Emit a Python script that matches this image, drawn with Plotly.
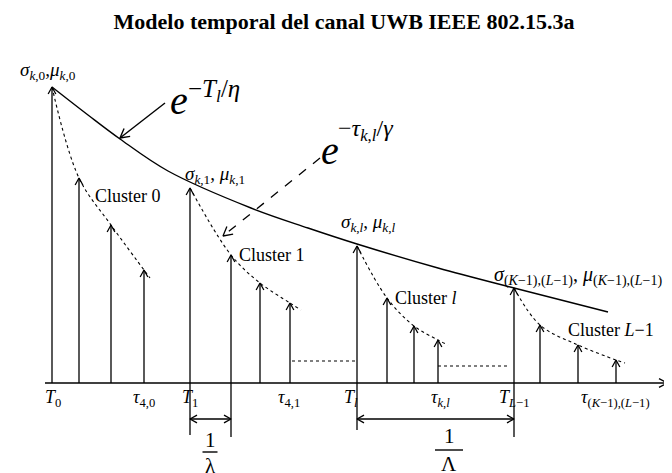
import plotly.graph_objects as go

# ray arrival times (px along the time axis) and amplitudes (px above the axis)
ray_t = [44, 71, 103, 136, 182, 223, 252, 282, 349, 379, 406, 430, 506, 532, 570, 608]
ray_amp = [296, 205, 158, 113, 195, 128, 100, 80, 137, 85, 57, 43, 95, 58, 38, 23]
ray_cluster = [0, 0, 0, 0, 1, 1, 1, 1, 2, 2, 2, 2, 3, 3, 3, 3]

# tail of each cluster's dotted decay after its last ray
tail_t = [142, 293, 440, 617]
tail_amp = [105, 73, 38, 20]

# cluster envelope e^{-T_l/eta}
env_t = [44, 80, 112, 160, 243, 300, 349, 430, 506, 600]
env_amp = [296, 268, 244, 212, 175, 155, 139, 115, 95, 71]

# dotted gaps between clusters
gap_t0 = [284, 430]
gap_t1 = [349, 500]
gap_amp = [22, 17]

cluster_names = ["Cluster 0", "Cluster 1", "Cluster <i>l</i>", "Cluster <i>L</i>−1"]
cluster_lbl_t = [120, 264, 418, 603]
cluster_lbl_amp = [187, 128, 85, 53]

peak_labels = [
    "<i>σ</i><sub><i>k</i>,0</sub>,<i>μ</i><sub><i>k</i>,0</sub>",
    "<i>σ</i><sub><i>k</i>,1</sub>, <i>μ</i><sub><i>k</i>,1</sub>",
    "<i>σ</i><sub><i>k</i>,<i>l</i></sub>, <i>μ</i><sub><i>k</i>,<i>l</i></sub>",
    "<i>σ</i><sub>(<i>K</i>−1),(<i>L</i>−1)</sub>, <i>μ</i><sub>(<i>K</i>−1),(<i>L</i>−1)</sub>",
]
peak_lbl_t = [40, 207, 360, 570]
peak_lbl_amp = [312, 208, 160, 107]
peak_lbl_size = [19, 19, 19, 20]

tick_labels = [
    "<i>T</i><sub>0</sub>", "<i>τ</i><sub>4,0</sub>", "<i>T</i><sub>1</sub>",
    "<i>τ</i><sub>4,1</sub>", "<i>T</i><sub><i>l</i></sub>", "<i>τ</i><sub><i>k</i>,<i>l</i></sub>",
    "<i>T</i><sub><i>L</i>−1</sub>", "<i>τ</i><sub>(<i>K</i>−1),(<i>L</i>−1)</sub>",
]
tick_t = [45, 136, 182, 281, 343, 432, 506, 607]

FONT = "Liberation Serif, DejaVu Serif, serif"
BASE = 375  # pixel row of the time axis
W, H = 672, 473


def head(x0, y0, x1, y1, size=7, spread=0.55):
    # open chevron at (x1, y1) for a segment coming from (x0, y0)
    dx, dy = x1 - x0, y1 - y0
    n = (dx * dx + dy * dy) ** 0.5
    ux, uy = dx / n, dy / n
    px, py = -uy, ux
    bx, by = x1 - ux * size, y1 - uy * size
    w = size * spread
    return [bx + px * w, x1, bx - px * w, None], [by + py * w, y1, by - py * w, None]


fig = go.Figure()


def add_line(xs, ys, width=1.3, dash="solid", shape="linear"):
    fig.add_trace(go.Scatter(
        x=xs, y=ys, mode="lines", hoverinfo="skip", showlegend=False,
        line=dict(color="black", width=width, dash=dash, shape=shape, smoothing=1.0),
    ))


# time axis with arrow
add_line([37, 659], [0, 0], width=1.3)
hx, hy = head(37, 0, 659, 0, size=8)
add_line(hx, hy, width=1.3)

# rays
sx, sy, ax_, ay_ = [], [], [], []
for t, a in zip(ray_t, ray_amp):
    sx += [t, t, None]
    sy += [0, a, None]
    h = head(t, 0, t, a, size=7)
    ax_ += h[0]
    ay_ += h[1]
add_line(sx, sy, width=1.3)
add_line(ax_, ay_, width=1.3)

# per-cluster dotted decays
for c in range(4):
    xs = [t for t, k in zip(ray_t, ray_cluster) if k == c] + [tail_t[c]]
    ys = [a for a, k in zip(ray_amp, ray_cluster) if k == c] + [tail_amp[c]]
    add_line(xs, ys, width=1.1, dash="dot", shape="spline")

# envelope
add_line(env_t, env_amp, width=1.4, shape="spline")

# dotted gaps
for x0, x1, a in zip(gap_t0, gap_t1, gap_amp):
    add_line([x0, x1], [a, a], width=1.2, dash="dot")

# pointers to the two exponentials
add_line([157, 112], [280, 245], width=1.4)
hx, hy = head(157, 280, 112, 245, size=9)
add_line(hx, hy, width=1.4)
add_line([312, 215], [225, 147], width=1.3, dash="dash")
hx, hy = head(312, 225, 215, 147, size=9)
add_line(hx, hy, width=1.3)

# interval markers 1/lambda and 1/Lambda
starts = [ray_t[4], ray_t[8]]
ends = [ray_t[5], ray_t[12]]
depth = [-52, -54, -47, -54]
for i, t in enumerate([starts[0], ends[0], starts[1], ends[1]]):
    add_line([t, t], [0, depth[i]], width=1.3)
for s, e in zip(starts, ends):
    add_line([s, e], [-36, -36], width=1.4)
    hx, hy = head(e, -36, s, -36, size=7)
    add_line(hx, hy, width=1.4)
    hx, hy = head(s, -36, e, -36, size=7)
    add_line(hx, hy, width=1.4)

ann = []


def text(x, y, s, size, xanchor="center"):
    ann.append(dict(x=x, y=y, xref="x", yref="y", text=s, showarrow=False,
                    xanchor=xanchor, yanchor="middle",
                    font=dict(family=FONT, size=size, color="black")))


for s, x, y in zip(cluster_names, cluster_lbl_t, cluster_lbl_amp):
    text(x, y, s, 18)
for s, x, y, fs in zip(peak_labels, peak_lbl_t, peak_lbl_amp, peak_lbl_size):
    text(x, y, s, fs)
for s, x in zip(tick_labels, tick_t):
    text(x, BASE - 390, s, 18)
text(662, 2, "<i>τ</i>", 18, xanchor="left")

# exponentials
text(171, 283, "<i>e</i>", 40)
text(178, 293, "−<i>T</i><sub><i>l</i></sub>/<i>η</i>", 25, xanchor="left")
text(322, 233, "<i>e</i>", 40)
text(328, 253, "−<i>τ</i><sub><i>k</i>,<i>l</i></sub>/<i>γ</i>", 24, xanchor="left")

# fractions
for cx, bw, den, y1, yb, yd in [(202, 15, "λ", -57, -69, -83), (441, 28, "Λ", -53, -67, -81)]:
    text(cx, y1, "1", 21)
    add_line([cx - bw / 2, cx + bw / 2], [yb, yb], width=1.4)
    text(cx, yd, den, 21)

fig.update_layout(
    width=W, height=H,
    margin=dict(l=0, r=0, t=0, b=0),
    paper_bgcolor="white", plot_bgcolor="white",
    xaxis=dict(range=[0, W], visible=False, fixedrange=True),
    yaxis=dict(range=[BASE - H, BASE], visible=False, fixedrange=True),
    annotations=ann,
    title=dict(text="Modelo temporal del canal UWB IEEE 802.15.3a", x=0.5, xanchor="center",
               y=1 - 13 / H, yanchor="middle",
               font=dict(family=FONT, size=22, color="black", weight="bold")),
)

fig.write_html("out.html")
